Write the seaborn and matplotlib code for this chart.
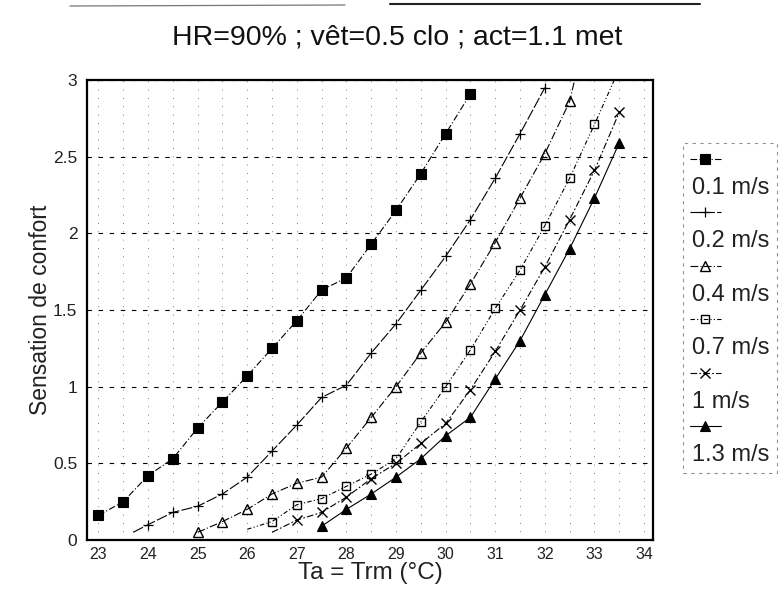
import numpy as np
import pandas as pd
import matplotlib
matplotlib.use("Agg")
import matplotlib.pyplot as plt
import seaborn as sns
from matplotlib.lines import Line2D
from matplotlib.ticker import MultipleLocator

sns.set_theme(style="white")
plt.rcParams['font.family'] = ['Liberation Sans', 'DejaVu Sans']

# ---------------- data ----------------
title = "HR=90% ; vêt=0.5 clo ; act=1.1 met"
x_label = "Ta = Trm (°C)"
y_label = "Sensation de confort"
x_ticks = [23, 24, 25, 26, 27, 28, 29, 30, 31, 32, 33, 34]
y_ticks = [0, 0.5, 1, 1.5, 2, 2.5, 3]
y_tick_labels = ["0", "0.5", "1", "1.5", "2", "2.5", "3"]

labels = ["0.1 m/s", "0.2 m/s", "0.4 m/s", "0.7 m/s", "1 m/s", "1.3 m/s"]

x_01 = [23, 23.5, 24, 24.5, 25, 25.5, 26, 26.5, 27, 27.5, 28, 28.5, 29, 29.5, 30, 30.5]
y_01 = [0.16, 0.25, 0.42, 0.53, 0.73, 0.90, 1.07, 1.25, 1.43, 1.63, 1.71, 1.93, 2.15, 2.39, 2.65, 2.91]

x_02 = [23.7, 24, 24.5, 25, 25.5, 26, 26.5, 27, 27.5, 28, 28.5, 29, 29.5, 30, 30.5, 31, 31.5, 32]
y_02 = [0.05, 0.10, 0.18, 0.22, 0.30, 0.41, 0.58, 0.75, 0.93, 1.01, 1.22, 1.41, 1.63, 1.85, 2.09, 2.36, 2.65, 2.95]

x_04 = [25, 25.5, 26, 26.5, 27, 27.5, 28, 28.5, 29, 29.5, 30, 30.5, 31, 31.5, 32, 32.5, 32.6]
y_04 = [0.05, 0.12, 0.20, 0.30, 0.37, 0.41, 0.60, 0.80, 1.00, 1.22, 1.42, 1.67, 1.94, 2.23, 2.52, 2.86, 3.0]

x_07 = [26, 26.5, 27, 27.5, 28, 28.5, 29, 29.5, 30, 30.5, 31, 31.5, 32, 32.5, 33, 33.4]
y_07 = [0.07, 0.12, 0.23, 0.27, 0.35, 0.43, 0.53, 0.77, 1.00, 1.24, 1.51, 1.76, 2.05, 2.36, 2.71, 3.0]

x_10 = [26.5, 27, 27.5, 28, 28.5, 29, 29.5, 30, 30.5, 31, 31.5, 32, 32.5, 33, 33.5]
y_10 = [0.05, 0.13, 0.18, 0.28, 0.40, 0.50, 0.63, 0.76, 0.98, 1.23, 1.50, 1.78, 2.09, 2.41, 2.79]

x_13 = [27.5, 28, 28.5, 29, 29.5, 30, 30.5, 31, 31.5, 32, 32.5, 33, 33.5]
y_13 = [0.09, 0.20, 0.30, 0.41, 0.53, 0.68, 0.80, 1.05, 1.30, 1.60, 1.90, 2.23, 2.59]

series_x = [x_01, x_02, x_04, x_07, x_10, x_13]
series_y = [y_01, y_02, y_04, y_07, y_10, y_13]

# ---------------- styles ----------------
styles = [
    dict(ls=(0, (6, 2, 1, 2)), marker="s", ms=7, mfc="black", mew=0.8, markevery=None),
    dict(ls=(0, (10, 2)), marker="+", ms=7, mfc="black", mew=0.9, markevery=slice(1, None)),
    dict(ls=(0, (7, 2, 1, 2)), marker="^", ms=6.5, mfc="none", mew=1.0, markevery=slice(0, -1)),
    dict(ls=(0, (4, 2, 1, 2, 1, 2)), marker="s", ms=5.5, mfc="none", mew=1.0, markevery=slice(1, -1)),
    dict(ls=(0, (6, 2, 1.5, 2)), marker="x", ms=6.5, mfc="black", mew=1.0, markevery=slice(1, None)),
    dict(ls="-", marker="^", ms=6.5, mfc="black", mew=0.8, markevery=None),
]

fig = plt.figure(figsize=(7.83, 5.89), dpi=100)
ax = fig.add_axes([87 / 783, 1 - 540 / 589, (653 - 87) / 783, (540 - 80) / 589])

for xs, ys, st in zip(series_x, series_y, styles):
    df = pd.DataFrame({"x": xs, "y": ys})
    kw = dict(color="black", lw=0.8, linestyle=st["ls"], marker=st["marker"],
              markersize=st["ms"], markerfacecolor=st["mfc"], markeredgecolor="black",
              markeredgewidth=st["mew"])
    if st["markevery"] is not None:
        kw["markevery"] = st["markevery"]
    sns.lineplot(data=df, x="x", y="y", ax=ax, estimator=None, sort=False, **kw)

ax.set_xlim(22.77, 34.18)
ax.set_ylim(0, 3)
ax.set_xticks(x_ticks)
ax.set_xticklabels([str(t) for t in x_ticks], fontsize=11.5)
ax.set_yticks(y_ticks)
ax.set_yticklabels(y_tick_labels, fontsize=12.5)
ax.xaxis.set_minor_locator(MultipleLocator(0.5))
ax.tick_params(axis="both", which="both", length=0, colors="#222222")
ax.tick_params(axis="x", pad=5)
ax.tick_params(axis="y", pad=7)

ax.grid(False)
ax.grid(True, which="major", axis="y", color="black", lw=0.8, ls=(0, (4, 6)))
ax.grid(True, which="both", axis="x", color="#555555", lw=0.6, ls=(0, (1, 9)))

for s in ax.spines.values():
    s.set_color("black")
    s.set_linewidth(1.6)

ax.set_xlabel(x_label, fontsize=17.5, color="#222222", labelpad=0)
ax.set_ylabel(y_label, fontsize=16.5, color="#222222", labelpad=1)

fig.text(397 / 783, 1 - 37 / 589, title, ha="center", va="center", fontsize=20.5, color="#111111")
fig.add_artist(Line2D([70 / 783, 345 / 783], [1 - 6 / 589, 1 - 5 / 589], transform=fig.transFigure,
                      color="#777777", lw=0.9))
fig.add_artist(Line2D([390 / 783, 700 / 783], [1 - 4 / 589, 1 - 4 / 589], transform=fig.transFigure,
                      color="#222222", lw=1.5))

# legend: handle row then label row
handles, texts = [], []
for lab, st in zip(labels, styles):
    handles.append(Line2D([0], [0], color="black", lw=0.8, linestyle=st["ls"], marker=st["marker"],
                          markersize=st["ms"], markerfacecolor=st["mfc"], markeredgecolor="black",
                          markeredgewidth=st["mew"]))
    texts.append(" ")
    handles.append(Line2D([], [], color="none"))
    texts.append(lab)

leg = ax.legend(handles, texts, loc="upper left", bbox_to_anchor=(683 / 783, 1 - 143 / 589),
                bbox_transform=fig.transFigure, fontsize=17, handlelength=1.3,
                handletextpad=-1.2, labelspacing=0.2, borderpad=0.3, borderaxespad=0,
                frameon=True, fancybox=False)
fr = leg.get_frame()
fr.set_edgecolor("#777777")
fr.set_linestyle((0, (3, 4)))
fr.set_linewidth(0.8)
for t in leg.get_texts():
    t.set_color("#222222")

fig.savefig("out.png", dpi=100)
